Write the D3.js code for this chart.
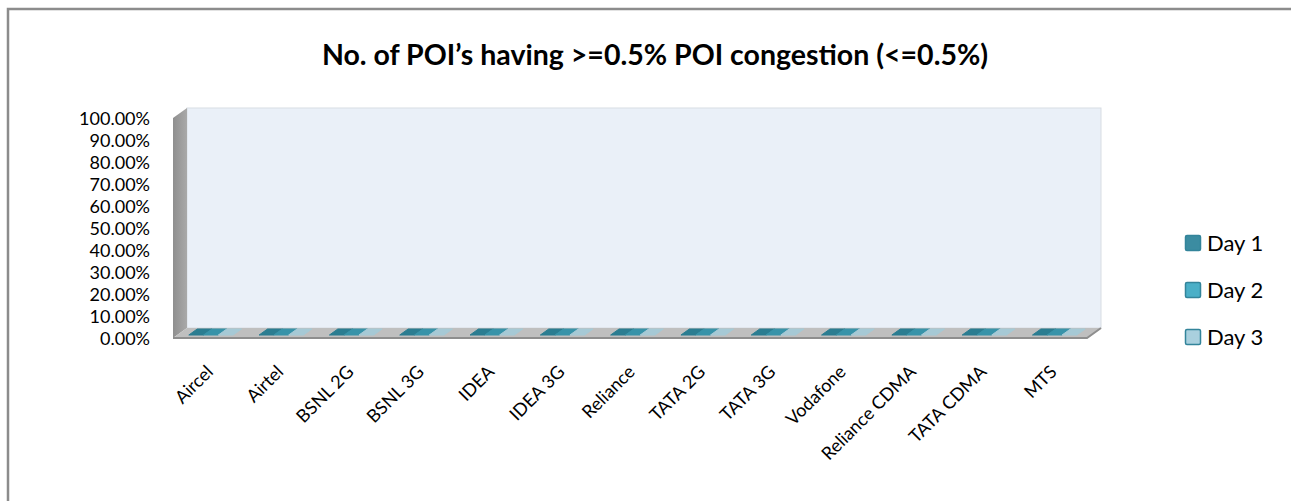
<!DOCTYPE html>
<html lang="en">
<head>
  <meta charset="UTF-8">
  <title>POI congestion</title>
  <style>
    body { margin: 0; background: #fff; }
    text { font-family: Lato, "Open Sans", sans-serif; fill: #000; }
  </style>
</head>
<body>
  <svg width="1291" height="501"></svg>

  <script src="https://d3js.org/d3.v7.min.js"></script>
  <script>
  // data
  var categories = ["Aircel", "Airtel", "BSNL 2G", "BSNL 3G", "IDEA", "IDEA 3G", "Reliance",
    "TATA 2G", "TATA 3G", "Vodafone", "Reliance CDMA", "TATA CDMA", "MTS"];
  var day1 = [0, 0, 0, 0, 0, 0, 0, 0, 0, 0, 0, 0, 0];
  var day2 = [0, 0, 0, 0, 0, 0, 0, 0, 0, 0, 0, 0, 0];
  var day3 = [0, 0, 0, 0, 0, 0, 0, 0, 0, 0, 0, 0, 0];
  var seriesNames = ["Day 1", "Day 2", "Day 3"];
  var yTicks = [0, 0.1, 0.2, 0.3, 0.4, 0.5, 0.6, 0.7, 0.8, 0.9, 1];

  var series = [day1, day2, day3];
  var topColors = ["#2b7d91", "#3893a9", "#a6c9d5"];
  var legendFill = ["#3b8ca1", "#4aafc7", "#a9d0de"];
  var legendStroke = "#33849a";

  var svg = d3.select("svg");

  // outer border (only top and left are in view)
  svg.append("path")
    .attr("d", "M8,502 L8,9 L1292,9")
    .attr("fill", "none")
    .attr("stroke", "#8c8c8c")
    .attr("stroke-width", 2.5);

  // title
  svg.append("text")
    .attr("x", 655)
    .attr("y", 65)
    .attr("text-anchor", "middle")
    .attr("font-size", "28.5px")
    .attr("font-weight", "bold")
    .text("No. of POI\u2019s having >=0.5% POI congestion (<=0.5%)");

  // 3d-ish frame
  var x0 = 173, x1 = 1087;
  var dx = 14, dy = -10;
  var x = d3.scaleBand().domain(categories).range([x0, x1]).paddingInner(0.37).paddingOuter(0.185);
  var xs = d3.scaleBand().domain(seriesNames).range([0, x.bandwidth()]);
  var y = d3.scaleLinear().domain([0, 1]).range([338, 118]);

  function pt(px, py, depth) { return [px + dx * depth, py + dy * depth]; }

  // back wall
  svg.append("rect")
    .attr("x", x0 + dx).attr("y", y(1) + dy)
    .attr("width", x1 - x0).attr("height", y(0) - y(1))
    .attr("fill", "#eaf0f8")
    .attr("stroke", "#d8dde3");

  // side wall
  var defs = svg.append("defs");
  var grad = defs.append("linearGradient").attr("id", "side").attr("x1", 0).attr("x2", 1);
  grad.append("stop").attr("offset", 0).attr("stop-color", "#8f8f8f");
  grad.append("stop").attr("offset", 1).attr("stop-color", "#a9a9a9");
  svg.append("path")
    .attr("d", d3.line()([pt(x0, y(0), 0), pt(x0, y(1), 0), pt(x0, y(1), 1), pt(x0, y(0), 1)]) + "Z")
    .attr("fill", "url(#side)");

  // floor
  svg.append("path")
    .attr("d", d3.line()([pt(x0, y(0), 0), pt(x1, y(0), 0), pt(x1, y(0), 1), pt(x0, y(0), 1)]) + "Z")
    .attr("fill", "#bfbfbf");
  svg.append("path")
    .attr("d", d3.line()([pt(x0, y(0), 0), pt(x1, y(0), 0), pt(x1, y(0), 1)]))
    .attr("fill", "none")
    .attr("stroke", "#8e8e8e")
    .attr("stroke-width", 2);

  // bars (zero height, so only the top face shows)
  var d0 = 0.2, d1 = 0.8;
  series.forEach(function(vals, si) {
    svg.append("g").selectAll("path")
      .data(vals)
      .enter()
      .append("path")
      .attr("d", function(v, i) {
        var bx = x(categories[i]) + xs(seriesNames[si]);
        var by = y(v) - 1;
        var w = xs.bandwidth();
        return d3.line()([pt(bx, by, d0), pt(bx + w, by, d0), pt(bx + w, by, d1), pt(bx, by, d1)]) + "Z";
      })
      .attr("fill", topColors[si])
      .attr("stroke", topColors[si])
      .attr("stroke-width", 1);
  });

  // y axis labels
  svg.append("g").selectAll("text")
    .data(yTicks)
    .enter()
    .append("text")
    .attr("x", 150)
    .attr("y", function(d) { return y(d) + 7; })
    .attr("text-anchor", "end")
    .attr("font-size", "18px")
    .text(d3.format(".2%"));

  // x axis labels
  svg.append("g").selectAll("text")
    .data(categories)
    .enter()
    .append("text")
    .attr("text-anchor", "end")
    .attr("font-size", "18px")
    .attr("transform", function(d) {
      return "translate(" + (x(d) + x.bandwidth() / 2 + 6) + ",373) rotate(-45)";
    })
    .text(function(d) { return d; });

  // legend
  var lg = svg.append("g").selectAll("g")
    .data(seriesNames)
    .enter()
    .append("g")
    .attr("transform", function(d, i) { return "translate(1185," + (235 + i * 47) + ")"; });
  lg.append("rect")
    .attr("x", 0.5).attr("y", 0.5)
    .attr("width", 15).attr("height", 15)
    .attr("rx", 1.5)
    .attr("fill", function(d, i) { return legendFill[i]; })
    .attr("stroke", legendStroke)
    .attr("stroke-width", 1.5);
  lg.append("text")
    .attr("x", 22)
    .attr("y", 16)
    .attr("font-size", "22px")
    .text(function(d) { return d; });
  </script>
</body>
</html>
